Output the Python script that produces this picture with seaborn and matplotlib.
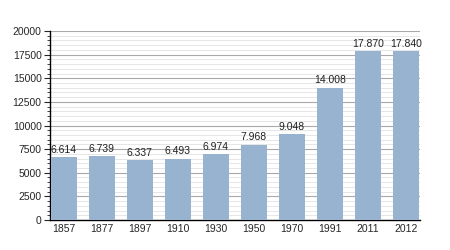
import matplotlib
matplotlib.use('Agg')
import matplotlib.pyplot as plt
import seaborn as sns
import pandas as pd
from matplotlib.ticker import MultipleLocator

years = ['1857', '1877', '1897', '1910', '1930', '1950', '1970', '1991', '2011', '2012']
population = [6614, 6739, 6337, 6493, 6974, 7968, 9048, 14008, 17870, 17840]

df = pd.DataFrame({'year': years, 'pop': population})

sns.set_style('white')
plt.rcParams['font.family'] = ['Liberation Sans', 'DejaVu Sans']

fig = plt.figure(figsize=(4.5, 2.5), dpi=100)
ax = fig.add_axes([0.111, 0.12, 0.822, 0.756])

sns.barplot(data=df, x='year', y='pop', color='#98b3cf', saturation=1, width=0.68,
            edgecolor='none', linewidth=0, ax=ax, zorder=3)

# value labels with dot as thousands separator
for i, v in enumerate(population):
    ax.text(i, v + 250, f"{v:,}".replace(',', '.'), ha='center', va='bottom', fontsize=7.5, color='#222222', zorder=4)

ax.set_ylim(0, 20000)
ax.set_xlim(-0.36, 9.36)
ax.yaxis.set_major_locator(MultipleLocator(2500))
ax.yaxis.set_minor_locator(MultipleLocator(500))
ax.grid(which='major', axis='y', color='#a8a8a8', linewidth=0.8, zorder=0)
ax.grid(which='minor', axis='y', color='#e2e2e2', linewidth=0.6, zorder=0)
ax.set_axisbelow(True)

for s in ['top', 'right']:
    ax.spines[s].set_visible(False)
for s in ['left', 'bottom']:
    ax.spines[s].set_color('black')
    ax.spines[s].set_linewidth(1)

ax.tick_params(axis='y', which='major', length=4, width=0.8, labelsize=7.5, left=True, pad=2)
ax.tick_params(axis='y', which='minor', length=2, width=0.6, left=True)
ax.tick_params(axis='x', length=0, labelsize=7.5, pad=3)
ax.set_xlabel('')
ax.set_ylabel('')

fig.savefig('out.png', dpi=100)
